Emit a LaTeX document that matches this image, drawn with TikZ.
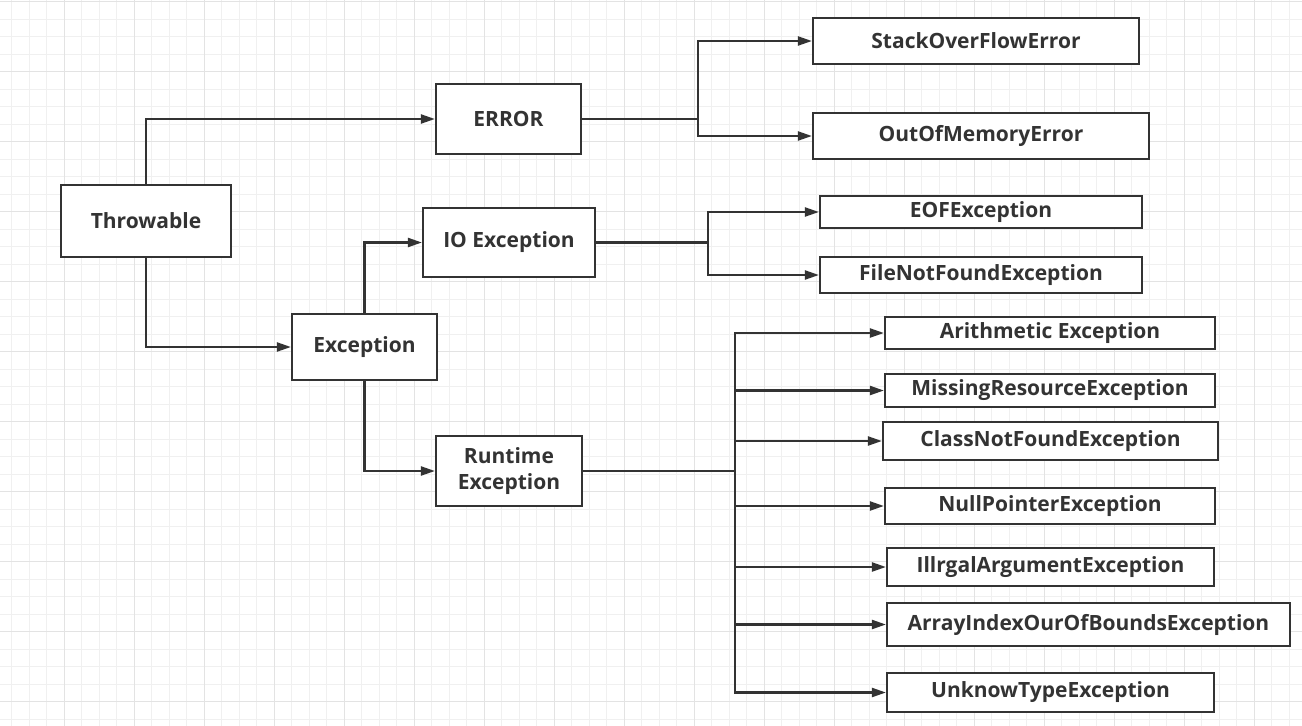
\documentclass[tikz,border=0pt]{standalone}
\usepackage{fontspec}
\setmainfont{Open Sans}
\usetikzlibrary{arrows.meta}
\definecolor{ink}{HTML}{333333}
\definecolor{gridminor}{HTML}{F0F0F0}
\definecolor{gridmajor}{HTML}{E3E3E3}
\begin{document}
\begin{tikzpicture}[x=1pt,y=-1pt,
  box/.style={draw=ink, line width=2.2pt, fill=white, inner sep=0pt,
    font=\bfseries\fontsize{21}{26}\selectfont, text=ink, align=center},
  conn/.style={draw=ink, line width=2.2pt, -{Triangle[length=14pt,width=9pt]}},
  gminor/.style={draw=gridminor, line width=1pt},
  gmajor/.style={draw=gridmajor, line width=1.2pt}]
\useasboundingbox (0,0) rectangle (1302,726);
\fill[white] (0,0) rectangle (1302,726);
% grid
\foreach \i in {0,...,74} \draw[gminor] ({11.7+17.5*\i},0) -- ({11.7+17.5*\i},726);
\foreach \i in {0,...,41} \draw[gminor] (0,{1.7+17.5*\i}) -- (1302,{1.7+17.5*\i});
\foreach \i in {0,...,18} \draw[gmajor] ({64.3+70*\i},0) -- ({64.3+70*\i},726);
\foreach \i in {0,...,10} \draw[gmajor] (0,{1.7+70*\i}) -- (1302,{1.7+70*\i});
% nodes
\node[box, minimum width=170pt, minimum height=72pt] (thr) at (146,221) {Throwable};
\node[box, minimum width=145pt, minimum height=70pt] (err) at (508.5,119) {ERROR};
\node[box, minimum width=145pt, minimum height=66pt] (exc) at (364.5,347) {Exception};
\node[box, minimum width=172pt, minimum height=69pt] (io) at (509,242.5) {IO Exception};
\node[box, minimum width=146pt, minimum height=70pt] (rt) at (509,471) {Runtime\\Exception};
\node[box, minimum width=326pt, minimum height=46pt] (sof) at (976,41) {StackOverFlowError};
\node[box, minimum width=336pt, minimum height=46pt] (oom) at (981,136) {OutOfMemoryError};
\node[box, minimum width=322pt, minimum height=32pt] (eof) at (981,212) {EOFException};
\node[box, minimum width=322pt, minimum height=36pt] (fnf) at (981,275) {FileNotFoundException};
\node[box, minimum width=330pt, minimum height=32pt] (ari) at (1050,333) {Arithmetic Exception};
\node[box, minimum width=330pt, minimum height=33pt] (mis) at (1050,390.5) {MissingResourceException};
\node[box, minimum width=335pt, minimum height=38pt] (cnf) at (1050.5,441) {ClassNotFoundException};
\node[box, minimum width=330pt, minimum height=36pt] (npe) at (1050,506) {NullPointerException};
\node[box, minimum width=327pt, minimum height=38pt] (iae) at (1050.5,567) {IllrgalArgumentException};
\node[box, minimum width=403pt, minimum height=43pt] (aio) at (1088.5,624.5) {ArrayIndexOurOfBoundsException};
\node[box, minimum width=327pt, minimum height=39pt] (ute) at (1050.5,692.5) {UnknowTypeException};
% connectors
\draw[conn] (thr.north) |- (err.west);
\draw[conn] (thr.south) |- (exc.west);
\draw[conn] (exc.north) |- (io.west);
\draw[conn] (exc.south) |- (rt.west);
\foreach \t in {sof,oom} \draw[conn] (err.east) -- ++(116,0) |- (\t.west);
\foreach \t in {eof,fnf} \draw[conn] (io.east) -- ++(112,0) |- (\t.west);
\foreach \t in {ari,mis,cnf,npe,iae,aio,ute} \draw[conn] (rt.east) -- ++(152,0) |- (\t.west);
\end{tikzpicture}
\end{document}
